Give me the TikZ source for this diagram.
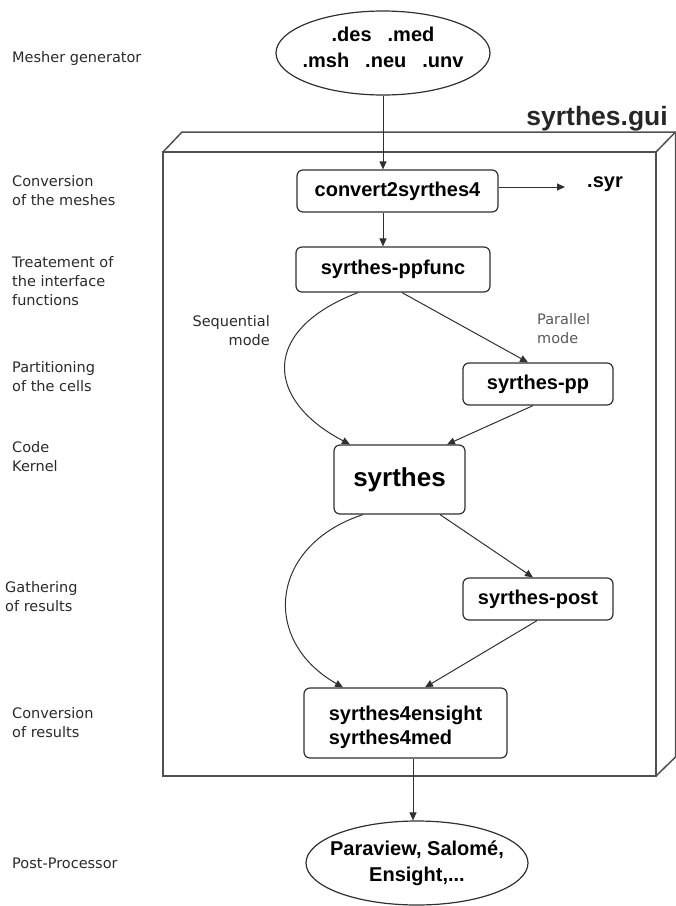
\documentclass[tikz,border=0pt]{standalone}
\usepackage{fontspec}
\setmainfont{Liberation Sans}
\newfontfamily\dvs{DejaVu Sans}
\usetikzlibrary{arrows.meta,shapes.geometric}
\definecolor{linecol}{HTML}{303030}
\definecolor{labcol}{HTML}{2A2A2A}
\definecolor{framecol}{HTML}{505050}
\begin{document}
\begin{tikzpicture}[x=1pt,y=-1pt,
  box/.style={draw=linecol,line width=1.2pt,rounded corners=6pt,inner sep=0pt,
    font=\fontsize{20}{24}\selectfont\bfseries},
  oval/.style={draw=linecol,ellipse,line width=1.2pt,inner sep=0pt,align=center,
    font=\fontsize{20}{25}\selectfont\bfseries},
  lbl/.style={font=\dvs\fontsize{14.5}{19}\selectfont,text=labcol,align=left,anchor=west,inner sep=0pt},
  arr/.style={draw=linecol,line width=1pt,-{Triangle[length=8pt,width=7pt]}},
  frame/.style={draw=framecol,line width=1.5pt}]
\useasboundingbox (0,0) rectangle (676,906);
% 3D frame
\coordinate (f1) at (163,152);
\coordinate (f2) at (656,152);
\coordinate (f3) at (656,776);
\coordinate (b1) at (182,132);
\coordinate (b2) at (675.5,132);
\coordinate (b3) at (675.5,757);
\draw[frame] (f1) rectangle (f3);
\draw[frame] (f1) -- (b1) -- (b2) -- (b3) -- (f3);
\draw[frame] (f2) -- (b2);
\node[anchor=base east,inner sep=0pt,font=\fontsize{26.5}{30}\selectfont\bfseries,text=black!85] (gui) at (668,125) {syrthes.gui};

% nodes
\node[oval,minimum width=214pt,minimum height=84pt] (mesh) at (383,53)
  {\makebox[0pt]{\raisebox{4pt}[\height][\depth]{\begin{tabular}{@{}c@{}}.des\hspace{16pt}.med\\[1pt].msh\hspace{16pt}.neu\hspace{16pt}.unv\end{tabular}}}};
\node[box,minimum width=201pt,minimum height=42pt] (conv) at (397.5,191) {convert2syrthes4};
\node[anchor=west,inner sep=0pt,font=\fontsize{20}{24}\selectfont\bfseries] (dotsyr) at (587,184) {.syr};
\node[box,minimum width=194pt,minimum height=45pt] (ppf) at (393,269.5) {syrthes-ppfunc};
\node[box,minimum width=150pt,minimum height=42pt] (pp) at (538,384) {syrthes-pp};
\node[box,minimum width=131pt,minimum height=69pt,font=\fontsize{26}{30}\selectfont\bfseries] (syr) at (399.5,479.5) {syrthes};
\node[box,minimum width=150pt,minimum height=42pt] (post) at (538,599) {syrthes-post};
\node[box,minimum width=203pt,minimum height=70pt] (c4) at (405.5,723)
  {\raisebox{-5pt}[\height][\depth]{\begin{tabular}{@{}l@{}}syrthes4ensight\\[0pt]syrthes4med\end{tabular}}};
\node[oval,minimum width=222pt,minimum height=84pt] (pproc) at (417,863)
  {\makebox[0pt]{\begin{tabular}{@{}c@{}}Paraview, Salomé,\\[1pt]Ensight,...\end{tabular}}};

% side labels
\node[lbl] (l1) at (12,58) {Mesher generator};
\node[lbl] (l2) at (12,191) {Conversion\\of the meshes};
\node[lbl] (l3) at (12,281) {Treatement of\\the interface\\functions};
\node[lbl] (l4) at (12,377) {Partitioning\\of the cells};
\node[lbl] (l5) at (12,457) {Code\\Kernel};
\node[lbl] (l6) at (5,597) {Gathering\\of results};
\node[lbl] (l7) at (12,723) {Conversion\\of results};
\node[lbl] (l8) at (12,863) {Post-Processor};
\node[lbl,anchor=east,align=right] (seq) at (270,331) {Sequential\\mode};
\node[lbl,text=black!65] (par) at (537,329) {Parallel\\mode};

% connectors
\draw[arr] (mesh.south) -- (mesh.south |- conv.north);
\draw[arr,shorten >=22pt] ([yshift=4pt]conv.east) -- ([yshift=4pt]conv.east -| dotsyr.west);
\draw[arr] (conv.south -| mesh.south) -- (ppf.north -| mesh.south);
\draw[arr] ([xshift=-35pt]ppf.south) .. controls (260,330) and (265,400) .. ([xshift=-49.5pt]syr.north);
\draw[arr] ([xshift=9pt]ppf.south) -- ([xshift=-10pt]pp.north);
\draw[arr] ([xshift=-5pt]pp.south) -- ([xshift=47.5pt]syr.north);
\draw[arr] ([xshift=40.5pt]syr.south) -- ([xshift=-5pt]post.north);
\draw[arr] ([xshift=-36.5pt]syr.south) .. controls (270,545) and (260,640) .. ([xshift=-62.5pt]c4.north);
\draw[arr] ([xshift=-1pt]post.south) -- ([xshift=19.5pt]c4.north);
\draw[arr] ([xshift=-4pt]pproc.north |- c4.south) -- ([xshift=-4pt]pproc.north);
\end{tikzpicture}
\end{document}
